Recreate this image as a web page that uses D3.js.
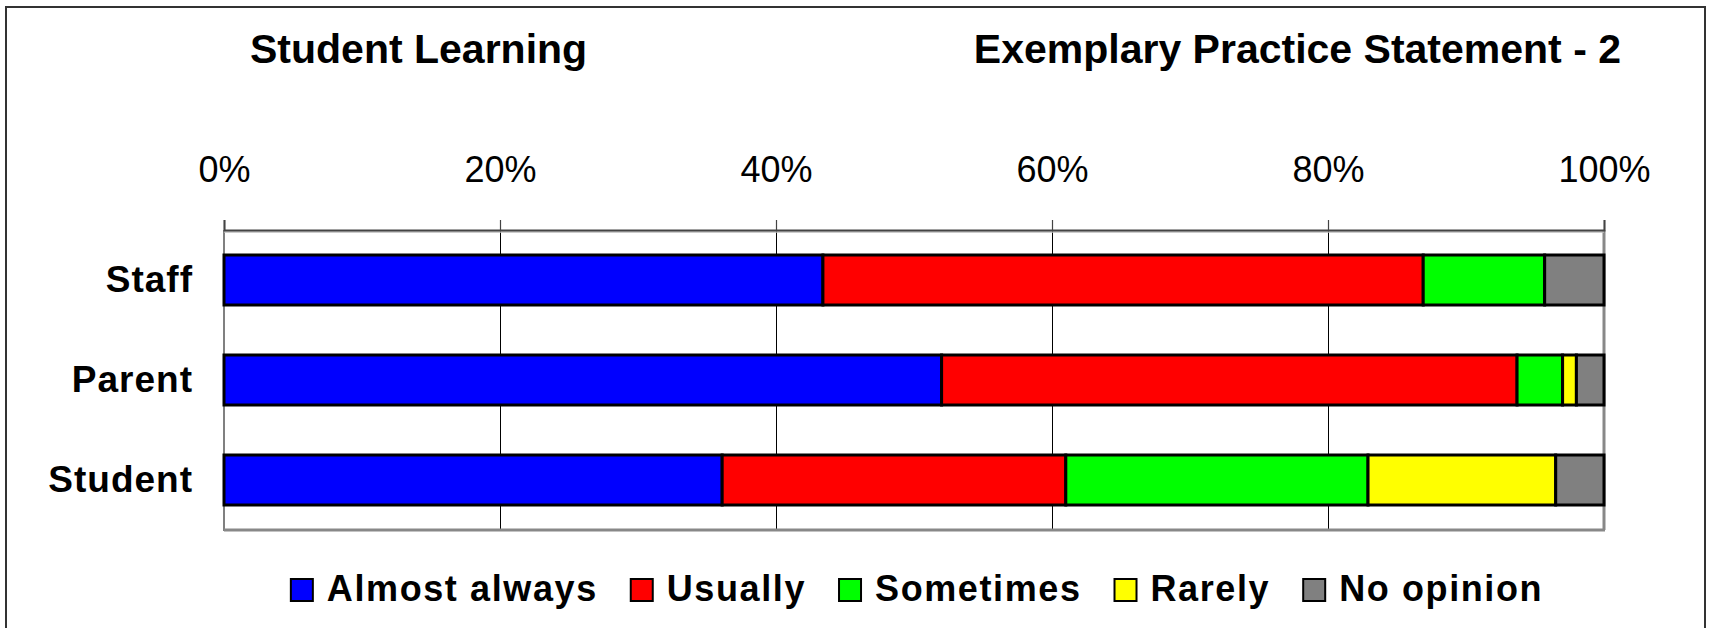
<!DOCTYPE html>
<html>
<head>
<meta charset="utf-8">
<script src="https://cdn.jsdelivr.net/npm/d3@7/dist/d3.min.js"></script>
<style>
  html, body { margin: 0; padding: 0; background: #fff; }
  svg { display: block; font-family: Arial, "Liberation Sans", sans-serif; }
</style>
</head>
<body>
<svg id="chart" width="1713" height="628"></svg>
<script>
// ---- Data ----
const groups = ["Staff", "Parent", "Student"];
const seriesNames = ["Almost always", "Usually", "Sometimes", "Rarely", "No opinion"];
const almostAlways = [43.4, 52.0, 36.1];
const usually      = [43.5, 41.7, 24.9];
const sometimes    = [8.8, 3.3, 21.9];
const rarely       = [0.0, 1.0, 13.6];
const noOpinion    = [4.3, 2.0, 3.5];
const tickValues = [0, 20, 40, 60, 80, 100];
const titleLeft = "Student Learning";
const titleRight = "Exemplary Practice Statement - 2";
const colors = ["#0000FF", "#FF0000", "#00FF00", "#FFFF00", "#808080"];

const seriesValues = [almostAlways, usually, sometimes, rarely, noOpinion];
const table = groups.map((g, i) => {
  const row = { group: g };
  seriesNames.forEach((s, j) => { row[s] = seriesValues[j][i]; });
  return row;
});

const svg = d3.select("#chart");
const plot = { left: 224, right: 1604, top: 230, bottom: 530 };

// outer frame
svg.append("rect")
  .attr("x", 6).attr("y", 7).attr("width", 1699).attr("height", 640)
  .attr("fill", "none").attr("stroke", "#333").attr("stroke-width", 2);

// titles
svg.append("text").attr("x", 250).attr("y", 63)
  .attr("font-size", 41).attr("font-weight", "bold").attr("fill", "#000")
  .text(titleLeft);
svg.append("text").attr("x", 1621).attr("y", 63).attr("text-anchor", "end")
  .attr("font-size", 41).attr("font-weight", "bold").attr("fill", "#000")
  .text(titleRight);

// scales
const x = d3.scaleLinear().domain([0, 100]).range([plot.left, plot.right]);
const y = d3.scaleBand().domain(groups).range([plot.top, plot.bottom])
  .paddingInner(0.5).paddingOuter(0.25);

// gridlines
svg.append("g").selectAll("line")
  .data(tickValues.filter(d => d > 0 && d < 100))
  .join("line")
  .attr("x1", d => Math.round(x(d)) + 0.5).attr("x2", d => Math.round(x(d)) + 0.5)
  .attr("y1", plot.top).attr("y2", plot.bottom)
  .attr("stroke", "#000").attr("stroke-width", 1)
  .attr("shape-rendering", "crispEdges");

// plot frame (left + bottom + right gray)
svg.append("line").attr("x1", plot.left).attr("x2", plot.left)
  .attr("y1", plot.top).attr("y2", plot.bottom + 1)
  .attr("stroke", "#808080").attr("stroke-width", 2);
svg.append("line").attr("x1", plot.left).attr("x2", plot.right + 1)
  .attr("y1", plot.bottom).attr("y2", plot.bottom)
  .attr("stroke", "#888").attr("stroke-width", 3);
svg.append("line").attr("x1", plot.right).attr("x2", plot.right)
  .attr("y1", plot.top).attr("y2", plot.bottom)
  .attr("stroke", "#888").attr("stroke-width", 3);
svg.append("line").attr("x1", plot.left).attr("x2", plot.right)
  .attr("y1", plot.top + 2).attr("y2", plot.top + 2)
  .attr("stroke", "#bbb").attr("stroke-width", 1.5);

// top axis
const xAxis = d3.axisTop(x).tickValues(tickValues)
  .tickFormat(d => d + "%").tickSize(10).tickPadding(38);
const gx = svg.append("g").attr("transform", `translate(0,${plot.top})`).call(xAxis);
gx.select(".domain").attr("stroke", "#444").attr("stroke-width", 2);
gx.selectAll(".tick line").attr("stroke", "#444").attr("stroke-width", 1.2);
gx.selectAll(".tick text").attr("font-size", 36).attr("fill", "#000")
  .attr("font-family", "Arial, 'Liberation Sans', sans-serif");

// left axis labels
const yAxis = d3.axisLeft(y).tickSize(0).tickPadding(31);
const gy = svg.append("g").attr("transform", `translate(${plot.left},0)`).call(yAxis);
gy.select(".domain").remove();
gy.selectAll(".tick text").attr("font-size", 37).attr("font-weight", "bold")
  .attr("fill", "#000").attr("letter-spacing", 1)
  .attr("font-family", "Arial, 'Liberation Sans', sans-serif");

// bars
const stack = d3.stack().keys(seriesNames);
const stacked = stack(table);
svg.append("g").selectAll("g")
  .data(stacked)
  .join("g")
  .attr("fill", (d, i) => colors[i])
  .selectAll("rect")
  .data(d => d.filter(p => p[1] - p[0] > 0))
  .join("rect")
  .attr("x", d => x(d[0]))
  .attr("width", d => x(d[1]) - x(d[0]))
  .attr("y", d => y(d.data.group))
  .attr("height", y.bandwidth())
  .attr("stroke", "#000").attr("stroke-width", 3);

// legend
const legend = svg.append("g");
const items = legend.selectAll("g").data(seriesNames).join("g");
items.append("rect").attr("width", 22).attr("height", 22)
  .attr("y", 579)
  .attr("fill", (d, i) => colors[i]).attr("stroke", "#000").attr("stroke-width", 2);
items.append("text").attr("x", 36).attr("y", 601)
  .attr("font-size", 36).attr("font-weight", "bold").attr("fill", "#000")
  .attr("letter-spacing", 1.6)
  .text(d => d);
let cursor = 0;
const offsets = [];
items.each(function() {
  const t = d3.select(this).select("text").node().getComputedTextLength();
  offsets.push(cursor);
  cursor += 36 + t + 33;
});
const totalW = cursor - 33;
const startX = 917 - totalW / 2;
items.attr("transform", (d, i) => `translate(${startX + offsets[i]},0)`);
</script>
</body>
</html>
